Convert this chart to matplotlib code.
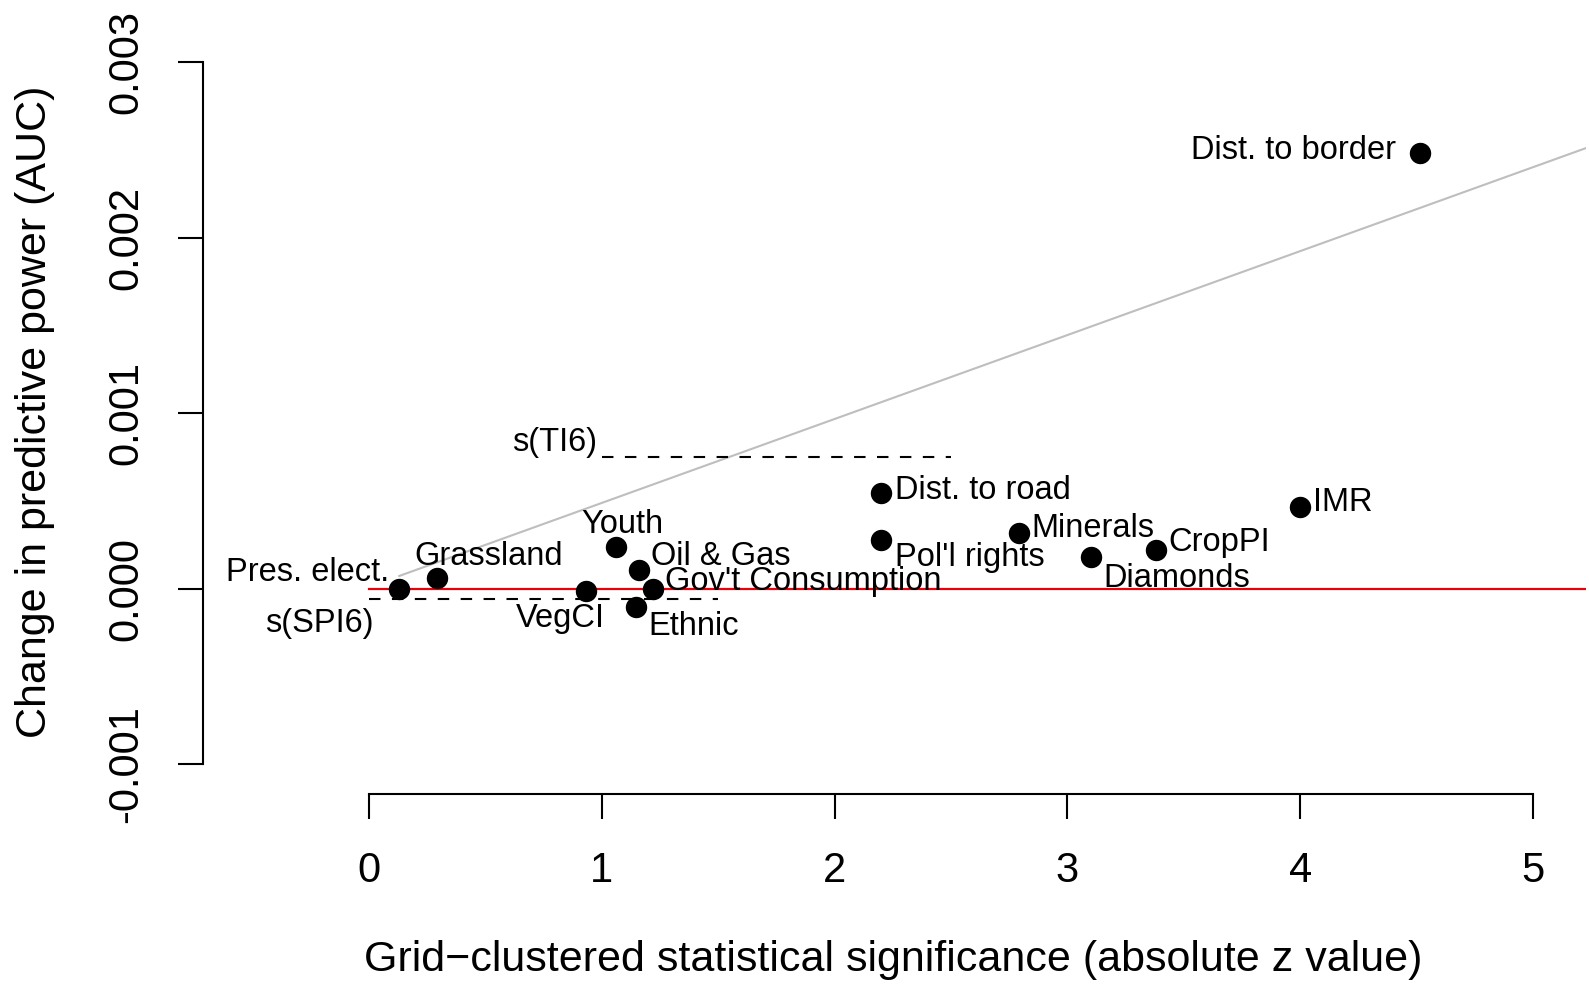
import matplotlib
matplotlib.use("Agg")
import matplotlib.pyplot as plt

plt.rcParams['font.family'] = ['Liberation Sans', 'DejaVu Sans']
plt.rcParams['axes.unicode_minus'] = False

# ---- data ----
names = ["Pres. elect.", "Grassland", "VegCI", "Youth", "Oil & Gas",
         "Gov't Consumption", "Ethnic", "Dist. to road", "Pol'l rights",
         "Minerals", "Diamonds", "CropPI", "IMR", "Dist. to border"]
z_values = [0.13, 0.29, 0.93, 1.06, 1.16, 1.22, 1.145, 2.20, 2.20,
            2.79, 3.10, 3.38, 4.00, 4.515]
auc_change = [0.0, 0.00006, -0.000015, 0.00024, 0.000105, 0.0,
              -0.000102, 0.000547, 0.000278, 0.00032, 0.000183,
              0.000221, 0.000468, 0.00248]

# threshold reference lines (dashed): label, x-start, x-end, y
thr_labels = ["s(TI6)", "s(SPI6)"]
thr_x0 = [1.0, 0.0]
thr_x1 = [2.5, 1.5]
thr_y = [0.00075, -0.00006]

# fitted line (gray)
fit_x0 = 0.13
fit_intercept = 0.000011
fit_slope = 0.000478

xticks = [0, 1, 2, 3, 4, 5]
yticks = [-0.001, 0.0, 0.001, 0.002, 0.003]
ytick_labels = ["-0.001", "0.000", "0.001", "0.002", "0.003"]

# ---- label placement (style) ----
label_offsets = [(-7.3, 11.4, 'right'), (-16.1, 15.6, 'left'), (13.8, -19.5, 'right'),
                 (4.4, 15.6, 'center'), (8.8, 10.0, 'left'), (8.8, 5.6, 'left'),
                 (9.5, -14.6, 'left'), (10.2, 1.6, 'left'), (10.2, -12.6, 'left'),
                 (9.5, 2.6, 'left'), (9.5, -15.5, 'left'), (8.8, 5.4, 'left'),
                 (9.5, 3.0, 'left'), (-17.5, 1.8, 'right')]
thr_offsets = [(-3.7, 10.4, 'right'), (3.6, -17.3, 'right')]

W, H = 1589, 984
fig = plt.figure(figsize=(W / 100, H / 100), dpi=100)
left_px, right_px, top_px, bottom_px = 203, 1586, 10, 794
ax = fig.add_axes([left_px / W, 1 - bottom_px / H,
                   (right_px - left_px) / W, (bottom_px - top_px) / H])

x_unit = 232.8
y_unit = 175.6 / 0.001
x0_px, y0_px = 369, 588.8
ax.set_xlim((left_px - x0_px) / x_unit, (right_px - x0_px) / x_unit)
ax.set_ylim(-(bottom_px - y0_px) / y_unit, (y0_px - top_px) / y_unit)
xmax = ax.get_xlim()[1]

# fitted gray line
ax.plot([fit_x0, xmax], [fit_intercept + fit_slope * fit_x0, fit_intercept + fit_slope * xmax],
        color='#BEBEBE', lw=1.5, zorder=1, clip_on=True)
# zero line
ax.plot([0, xmax], [0, 0], color='#E8000B', lw=1.6, zorder=2)

# dashed thresholds
for lab, a, b, y, (dx, dy, ha) in zip(thr_labels, thr_x0, thr_x1, thr_y, thr_offsets):
    ax.plot([a, b], [y, y], color='black', lw=1.5, linestyle=(0, (5.5, 5.5)), zorder=2)
    ax.annotate(lab, (a, y), xytext=(dx, dy), textcoords='offset points',
                ha=ha, va='center', fontsize=23.5)

# points
ax.plot(z_values, auc_change, 'o', color='black', markersize=14.4, zorder=3)
for n, x, y, (dx, dy, ha) in zip(names, z_values, auc_change, label_offsets):
    ax.annotate(n, (x, y), xytext=(dx, dy), textcoords='offset points',
                ha=ha, va='center', fontsize=23.5, zorder=4)

for s in ['top', 'right']:
    ax.spines[s].set_visible(False)
ax.spines['left'].set_bounds(-0.001, 0.003)
ax.spines['bottom'].set_bounds(0, 5)
ax.spines['left'].set_linewidth(1.5)
ax.spines['bottom'].set_linewidth(1.5)

ax.set_xticks(xticks)
ax.set_xticklabels([str(t) for t in xticks])
ax.set_yticks(yticks)
ax.set_yticklabels(ytick_labels, rotation=90, va='center')
ax.tick_params(axis='both', direction='out', length=18, width=1.5, labelsize=30, pad=23)

fig.text(35 / W, 1 - 412 / H, "Change in predictive power (AUC)", rotation=90,
         ha='center', va='center', fontsize=31)
fig.text(893 / W, 1 - 960 / H,
         "Grid\u2212clustered statistical significance (absolute z value)",
         ha='center', va='center', fontsize=31)

fig.savefig("out.png", dpi=100)
